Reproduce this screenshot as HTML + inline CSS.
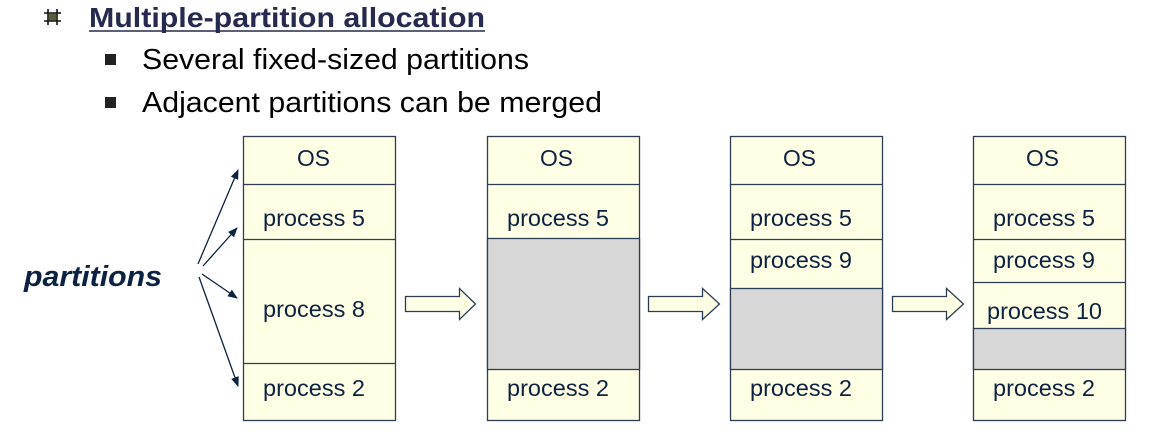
<!DOCTYPE html>
<html><head><meta charset="utf-8"><style>
body{margin:0;background:#fff;width:1163px;height:438px;overflow:hidden}
svg{display:block}
text{font-family:"Liberation Sans",Arial,sans-serif}
</style></head><body>
<svg width="1163" height="438" viewBox="0 0 1163 438">
<defs><marker id="ah" markerWidth="10" markerHeight="10" refX="9" refY="5" orient="auto" markerUnits="userSpaceOnUse"><path d="M0,1 L10,5 L0,9 Z" fill="#0d2240"/></marker></defs>
<g stroke="#111" stroke-width="1.6"><line x1="48" y1="9" x2="48" y2="25"/><line x1="57" y1="9" x2="57" y2="25"/><line x1="44" y1="13" x2="61" y2="13"/><line x1="44" y1="21" x2="61" y2="21"/></g>
<rect x="48.5" y="13.5" width="8" height="7" fill="#5a5e3e"/>
<text x="89" y="27" font-size="28" font-weight="bold" fill="#252a4e" textLength="396" lengthAdjust="spacingAndGlyphs">Multiple-partition allocation</text>
<line x1="89" y1="31" x2="485" y2="31" stroke="#252a4e" stroke-width="1.5"/>
<rect x="105" y="54" width="11" height="11" fill="#222"/>
<text x="142" y="69" font-size="29" fill="#000" textLength="387" lengthAdjust="spacingAndGlyphs">Several fixed-sized partitions</text>
<rect x="105" y="97" width="11" height="11" fill="#222"/>
<text x="142" y="112" font-size="29" fill="#000" textLength="460" lengthAdjust="spacingAndGlyphs">Adjacent partitions can be merged</text>
<text x="24" y="286" font-size="29" font-weight="bold" font-style="italic" fill="#0d2240" textLength="138" lengthAdjust="spacingAndGlyphs">partitions</text>
<g stroke="#0d2240" stroke-width="1.3" marker-end="url(#ah)">
<line x1="198" y1="264" x2="238" y2="170"/>
<line x1="203" y1="266" x2="237" y2="228"/>
<line x1="202" y1="274" x2="237" y2="298"/>
<line x1="199" y1="277" x2="238" y2="386"/>
</g>
<g stroke="#2c3e55" stroke-width="1.3">
<rect x="243.5" y="136.5" width="152" height="284" fill="#ffffe6"/>
<line x1="243" y1="184.5" x2="396" y2="184.5"/><line x1="243" y1="239.5" x2="396" y2="239.5"/><line x1="243" y1="363.5" x2="396" y2="363.5"/>
<rect x="487.5" y="136.5" width="152" height="284" fill="#ffffe6"/>
<rect x="487.5" y="238.5" width="152" height="131" fill="#d7d7d7"/>
<line x1="487" y1="184.5" x2="640" y2="184.5"/>
<rect x="730.5" y="136.5" width="152" height="284" fill="#ffffe6"/>
<rect x="730.5" y="288.5" width="152" height="81" fill="#d7d7d7"/>
<line x1="730" y1="184.5" x2="883" y2="184.5"/><line x1="730" y1="239.5" x2="883" y2="239.5"/>
<rect x="973.5" y="136.5" width="152" height="284" fill="#ffffe6"/>
<rect x="973.5" y="328.5" width="152" height="41" fill="#d7d7d7"/>
<line x1="973" y1="184.5" x2="1126" y2="184.5"/><line x1="973" y1="239.5" x2="1126" y2="239.5"/><line x1="973" y1="282.5" x2="1126" y2="282.5"/>
<path d="M405.5,296.5 H459.5 V288.5 L475.5,304 L459.5,319.5 V311.5 H405.5 Z" fill="#ffffe6"/>
<path d="M648.5,296.5 H702.5 V288.5 L719.5,304 L702.5,319.5 V311.5 H648.5 Z" fill="#ffffe6"/>
<path d="M892.5,296.5 H946.5 V288.5 L963.5,304 L946.5,319.5 V311.5 H892.5 Z" fill="#ffffe6"/>
</g>
<g font-size="23" fill="#0d2240">
<text x="297" y="166" textLength="33" lengthAdjust="spacingAndGlyphs">OS</text>
<text x="263" y="226" textLength="102" lengthAdjust="spacingAndGlyphs">process 5</text><text x="263" y="317" textLength="102" lengthAdjust="spacingAndGlyphs">process 8</text><text x="263" y="396" textLength="102" lengthAdjust="spacingAndGlyphs">process 2</text>
<text x="540" y="166" textLength="33" lengthAdjust="spacingAndGlyphs">OS</text>
<text x="507" y="226" textLength="102" lengthAdjust="spacingAndGlyphs">process 5</text><text x="507" y="396" textLength="102" lengthAdjust="spacingAndGlyphs">process 2</text>
<text x="783" y="166" textLength="33" lengthAdjust="spacingAndGlyphs">OS</text>
<text x="750" y="226" textLength="102" lengthAdjust="spacingAndGlyphs">process 5</text><text x="750" y="268" textLength="102" lengthAdjust="spacingAndGlyphs">process 9</text><text x="750" y="396" textLength="102" lengthAdjust="spacingAndGlyphs">process 2</text>
<text x="1026" y="166" textLength="33" lengthAdjust="spacingAndGlyphs">OS</text>
<text x="993" y="226" textLength="102" lengthAdjust="spacingAndGlyphs">process 5</text><text x="993" y="268" textLength="102" lengthAdjust="spacingAndGlyphs">process 9</text><text x="987" y="319" textLength="115" lengthAdjust="spacingAndGlyphs">process 10</text><text x="993" y="396" textLength="102" lengthAdjust="spacingAndGlyphs">process 2</text>
</g>
</svg>
</body></html>
